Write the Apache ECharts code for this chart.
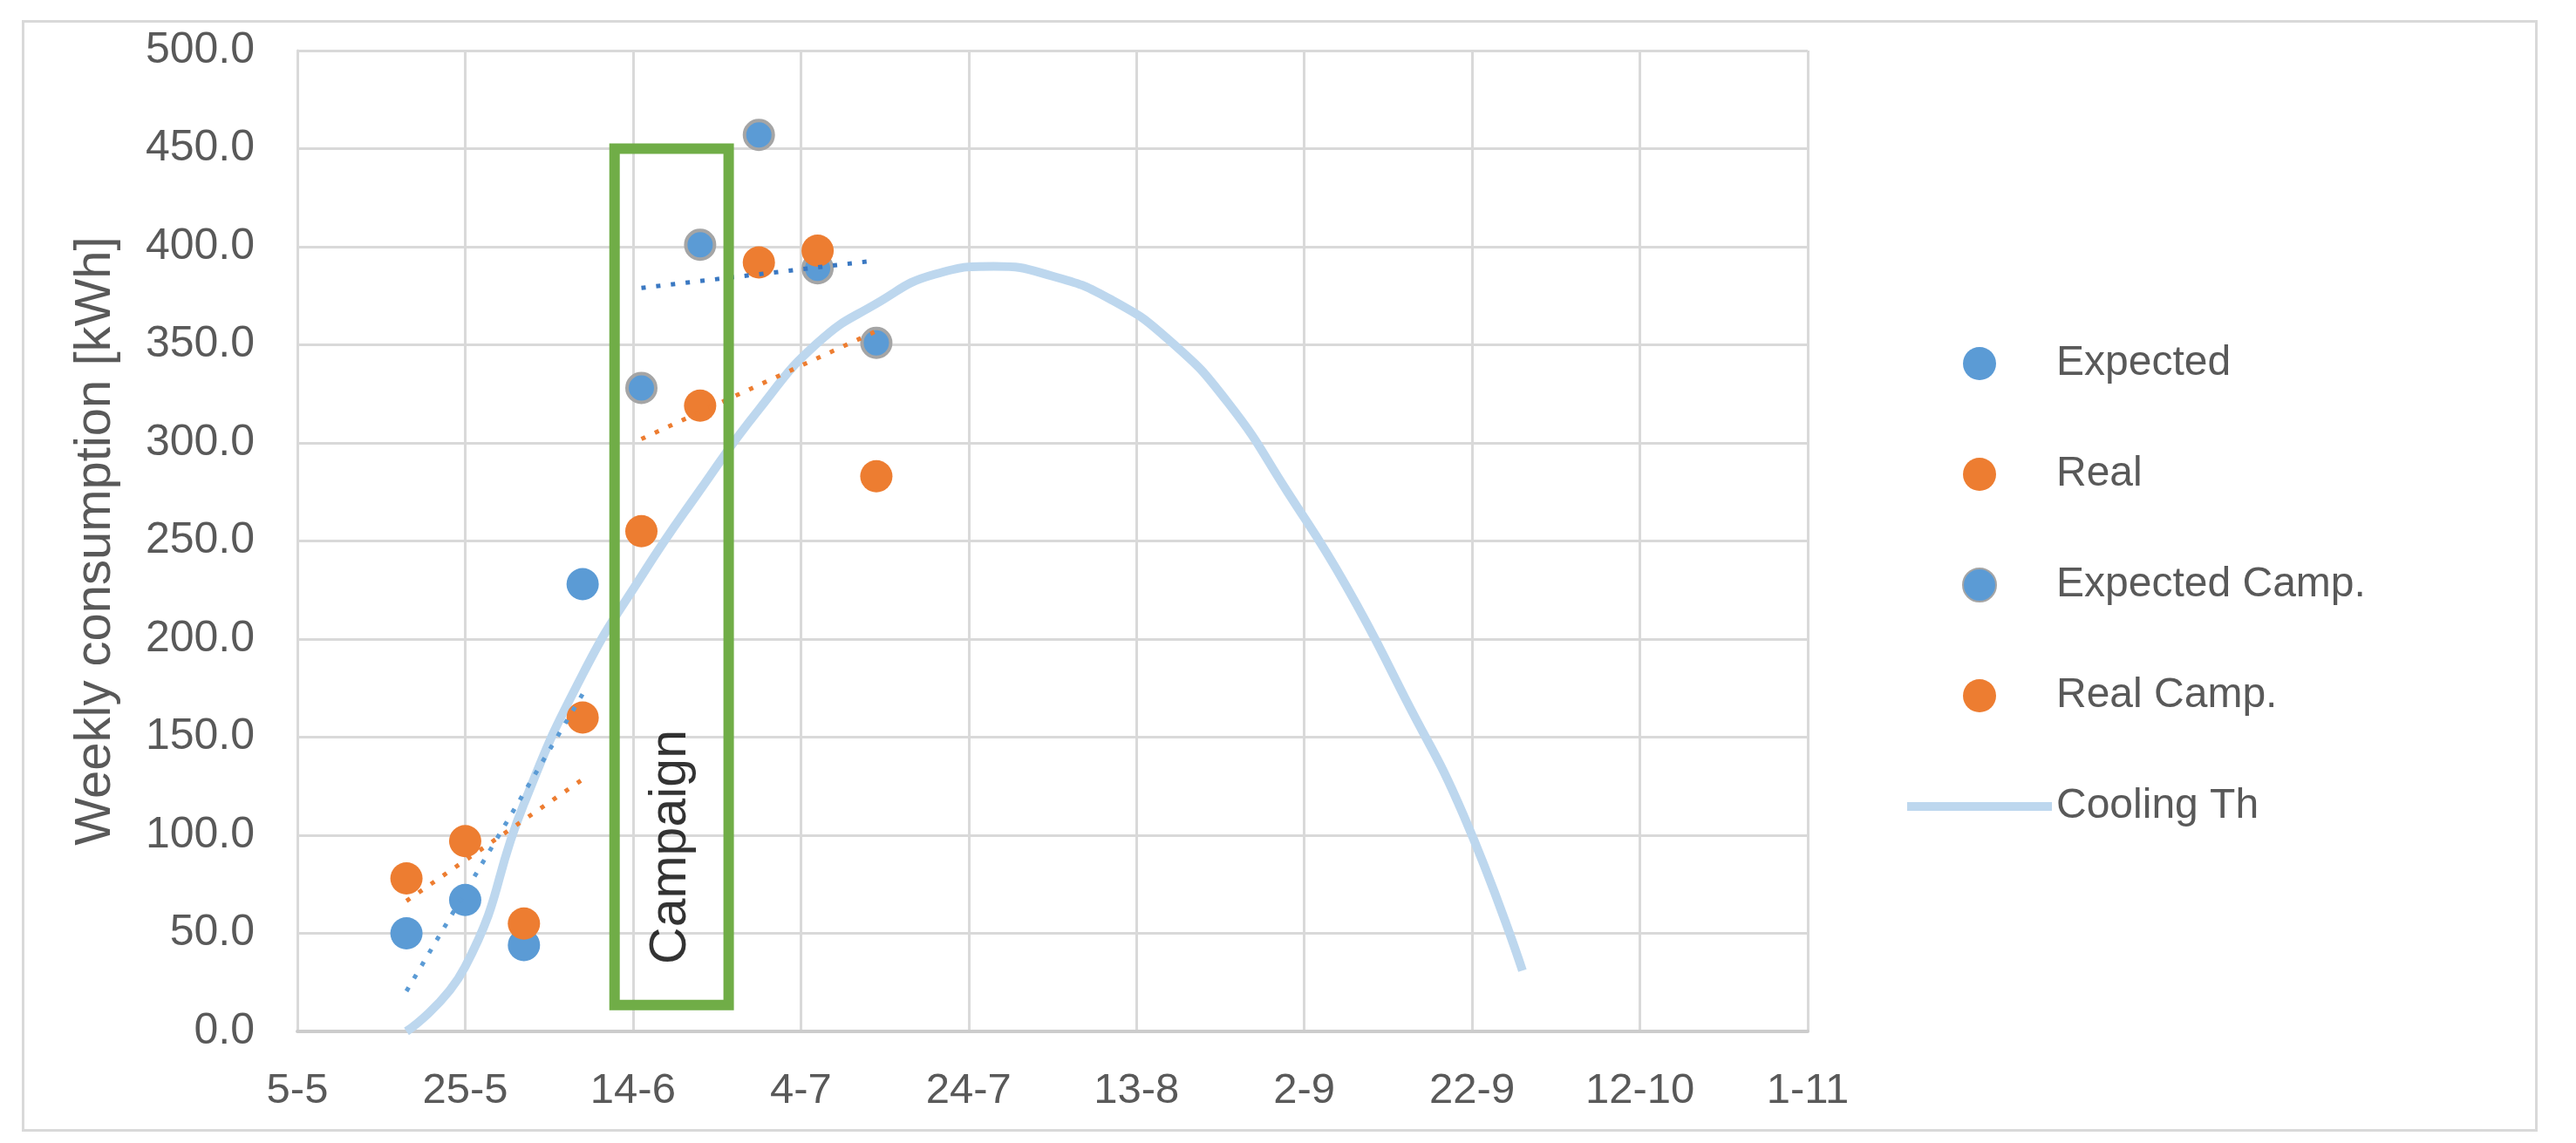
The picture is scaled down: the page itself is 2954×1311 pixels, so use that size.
<!DOCTYPE html>
<html>
<head>
<meta charset="utf-8">
<script src="https://cdn.jsdelivr.net/npm/echarts@6/dist/echarts.min.js"></script>
<style>
html,body{margin:0;padding:0;background:#fff;}
#c{width:2954px;height:1311px;}
</style>
</head>
<body>
<div id="c"></div>
<script>
// ---- data ----
const tickLabels = ['5-5','25-5','14-6','4-7','24-7','13-8','2-9','22-9','12-10','1-11'];

const preDates = ['18-5','25-5','1-6','8-6'];
const expected = [50, 67, 44, 228];
const real = [78, 97, 55, 160];

const campDates = ['15-6','22-6','29-6','6-7','13-7'];
const expectedCamp = [328, 401, 457, 389, 351];
const realCamp = [255, 319, 392, 398, 283];

const coolingDates = ['18-5','25-5','1-6','8-6','15-6','22-6','29-6','6-7','13-7','20-7',
                      '27-7','3-8','10-8','17-8','24-8','31-8','7-9','14-9','21-9','28-9'];
const coolingTh = [0, 33, 116, 182, 232, 276, 317, 351, 371, 386,
                   390, 385, 373, 352, 320, 275, 227, 170, 110, 31];

// linear trend lines (end points)
const trendExpDates = ['18-5','8-6'];
const trendExpValues = [20.5, 172];
const trendRealDates = ['18-5','8-6'];
const trendRealValues = [66.5, 128.5];
const trendExpCampDates = ['15-6','12-7'];
const trendExpCampValues = [379, 392.5];
const trendRealCampDates = ['15-6','13-7'];
const trendRealCampValues = [302, 357];

// campaign box (days after 5-5, kWh)
const campaignDays = [37.8, 51.4];
const campaignKWh = [13.5, 450];
const campaignLabelAt = [44.6, 94];
const campaignText = 'Campaign';

// ---- helpers ----
function dayOf(s){
  const p = s.split('-').map(Number);
  return (Date.UTC(2019, p[1]-1, p[0]) - Date.UTC(2019, 4, 5)) / 86400000;
}
function pairs(dates, vals){ return dates.map((d,i)=>[dayOf(d), vals[i]]); }

const FONT = '"Liberation Sans", Arial, sans-serif';
const GRAY = '#595959';
const BLUE = '#5B9BD5', ORANGE = '#ED7D31', LIGHT = '#BDD7EE';

const chart = echarts.init(document.getElementById('c'), null, {renderer:'canvas'});
chart.setOption({
  backgroundColor:'#ffffff',
  animation:false,
  graphic:[{
    type:'rect', left:24, top:22, z:-10,
    shape:{width:2882, height:1272},
    style:{fill:'none', stroke:'#D9D9D9', lineWidth:3}
  }],
  grid:{left:341, right:881, top:58, bottom:128},
  legend:{
    orient:'vertical', left:2182, top:388,
    itemWidth:166, itemHeight:38, itemGap:79,
    data:['Expected','Real','Expected Camp.','Real Camp.',
      {name:'Cooling Th', icon:'path://M0,0 L166,0 L166,10 L0,10 Z', itemStyle:{color:LIGHT}}],
    textStyle:{fontFamily:FONT, fontSize:48, color:GRAY}
  },
  xAxis:{
    type:'value', min:0, max:180, interval:20,
    axisLine:{lineStyle:{color:'#CCCCCC', width:4}},
    axisTick:{show:false},
    splitLine:{lineStyle:{color:'#D9D9D9', width:3}},
    axisLabel:{fontFamily:FONT, fontSize:49, color:GRAY, margin:44,
      formatter:v=>tickLabels[Math.round(v/20)]}
  },
  yAxis:{
    type:'value', min:0, max:500, interval:50,
    name:'Weekly consumption [kWh]', nameLocation:'middle', nameRotate:90, nameGap:202,
    nameTextStyle:{fontFamily:FONT, fontSize:58, color:GRAY},
    axisLine:{show:true, lineStyle:{color:'#D9D9D9', width:3}},
    axisTick:{show:false},
    splitLine:{lineStyle:{color:'#D9D9D9', width:3}},
    axisLabel:{fontFamily:FONT, fontSize:50, color:GRAY, margin:49,
      formatter:v=>v.toFixed(1)}
  },
  series:[
    {
      name:'Cooling Th', type:'line', data:pairs(coolingDates, coolingTh),
      smooth:0.5, symbol:'none', z:1,
      lineStyle:{color:LIGHT, width:10},
      itemStyle:{color:LIGHT},
      markArea:{
        silent:true, z:5,
        itemStyle:{color:'rgba(0,0,0,0)', borderColor:'#70AD47', borderWidth:12},
        data:[[{coord:[campaignDays[0], campaignKWh[0]]},{coord:[campaignDays[1], campaignKWh[1]]}]]
      }
    },
    {name:'Expected', type:'scatter', data:pairs(preDates, expected), symbolSize:37, z:3,
      itemStyle:{color:BLUE, opacity:1}},
    {name:'Real', type:'scatter', data:pairs(preDates, real), symbolSize:37, z:3,
      itemStyle:{color:ORANGE, opacity:1}},
    {name:'Expected Camp.', type:'scatter', data:pairs(campDates, expectedCamp), symbolSize:33, z:3,
      itemStyle:{color:BLUE, borderColor:'#A5A5A5', borderWidth:4, opacity:1}},
    {name:'Real Camp.', type:'scatter', data:pairs(campDates, realCamp), symbolSize:37, z:3,
      itemStyle:{color:ORANGE, opacity:1}},
    {type:'line', data:pairs(trendExpDates, trendExpValues), symbol:'none', z:4, silent:true,
      lineStyle:{color:BLUE, width:5, type:[5,12]}},
    {type:'line', data:pairs(trendRealDates, trendRealValues), symbol:'none', z:4, silent:true,
      lineStyle:{color:ORANGE, width:5, type:[5,12]}},
    {type:'line', data:pairs(trendExpCampDates, trendExpCampValues), symbol:'none', z:4, silent:true,
      lineStyle:{color:'#3A78C2', width:5, type:[5,12]}},
    {type:'line', data:pairs(trendRealCampDates, trendRealCampValues), symbol:'none', z:4, silent:true,
      lineStyle:{color:ORANGE, width:5, type:[5,12]}},
    {type:'scatter', data:[campaignLabelAt], symbolSize:0, z:6, silent:true,
      label:{show:true, position:'inside', rotate:90, formatter:campaignText,
        fontFamily:FONT, fontSize:59, color:'#000000'}}
  ]
});
</script>
</body>
</html>
